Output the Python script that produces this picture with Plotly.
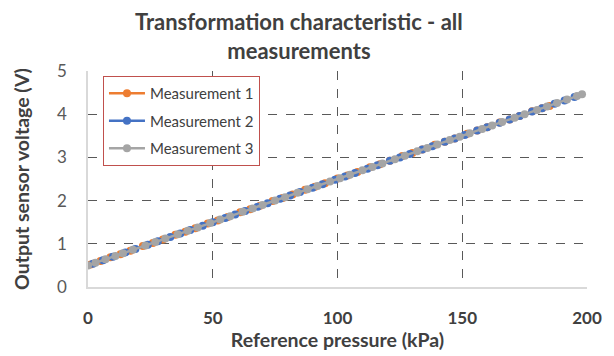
import plotly.graph_objects as go

# Measurement 1 (orange)
m1_p = [1, 5, 9, 13, 17, 22, 26, 30, 35, 39, 43, 48, 52, 56, 61, 65, 69, 74, 78, 82,
        87, 91, 95, 100, 104, 108, 113, 117, 121, 126, 130, 134, 139, 143, 147, 152,
        156, 160, 165, 169, 173, 178, 182, 185]
m1_v = [0.52, 0.60, 0.69, 0.76, 0.84, 0.95, 1.02, 1.10, 1.21, 1.28, 1.36, 1.47, 1.54,
        1.62, 1.73, 1.80, 1.88, 1.99, 2.06, 2.14, 2.25, 2.32, 2.40, 2.51, 2.58, 2.66,
        2.77, 2.84, 2.92, 3.03, 3.10, 3.18, 3.29, 3.36, 3.44, 3.55, 3.62, 3.70, 3.81,
        3.88, 3.96, 4.07, 4.14, 4.19]

# Measurement 2 (blue)
m2_p = [2, 6, 10, 15, 19, 24, 28, 33, 37, 41, 46, 50, 55, 59, 63, 68, 72, 77, 81, 85,
        90, 94, 99, 103, 107, 112, 116, 121, 125, 129, 134, 138, 143, 147, 151, 156,
        160, 165, 169, 173, 178, 182, 187, 191, 195]
m2_v = [0.54, 0.62, 0.70, 0.80, 0.88, 0.98, 1.06, 1.16, 1.24, 1.32, 1.42, 1.50, 1.60,
        1.68, 1.76, 1.86, 1.94, 2.04, 2.12, 2.20, 2.30, 2.38, 2.48, 2.56, 2.64, 2.74,
        2.82, 2.92, 3.00, 3.08, 3.18, 3.26, 3.36, 3.44, 3.52, 3.62, 3.70, 3.80, 3.88,
        3.96, 4.06, 4.14, 4.24, 4.32, 4.40]

# Measurement 3 (gray)
m3_p = [0, 3, 7, 11, 14, 18, 23, 27, 31, 36, 40, 44, 49, 53, 57, 62, 66, 70, 75, 79,
        84, 88, 92, 97, 101, 105, 110, 114, 118, 123, 127, 132, 136, 140, 145, 149,
        153, 158, 162, 166, 171, 175, 180, 184, 188, 192, 196, 198]
m3_v = [0.50, 0.56, 0.64, 0.72, 0.78, 0.86, 0.96, 1.04, 1.12, 1.22, 1.30, 1.38, 1.48,
        1.56, 1.64, 1.74, 1.82, 1.90, 2.00, 2.08, 2.18, 2.26, 2.34, 2.44, 2.52, 2.60,
        2.70, 2.78, 2.86, 2.96, 3.04, 3.14, 3.22, 3.30, 3.40, 3.48, 3.56, 3.66, 3.74,
        3.82, 3.92, 4.00, 4.10, 4.18, 4.26, 4.34, 4.42, 4.46]

series = [
    ("Measurement 1", m1_p, m1_v, "#ED7D31"),
    ("Measurement 2", m2_p, m2_v, "#4472C4"),
    ("Measurement 3", m3_p, m3_v, "#A5A5A5"),
]

x_ticks = [0, 50, 100, 150, 200]
y_ticks = [0, 1, 2, 3, 4, 5]

FONT = "Lato"
TXT = "#595959"
DARK = "#404040"

fig = go.Figure()
for i, (name, xs, ys, col) in enumerate(series):
    fig.add_trace(go.Scatter(
        x=xs, y=ys, name=name, mode="lines+markers",
        line=dict(color=col, width=2.5),
        marker=dict(color=col, size=8),
        legendgroup=f"g{i}",
    ))

fig.update_layout(
    width=614, height=356,
    margin=dict(l=88, r=20, t=71, b=68),
    paper_bgcolor="white", plot_bgcolor="white",
    font=dict(family=FONT, color=TXT),
    legend=dict(
        x=0.03, y=0.977, xanchor="left", yanchor="top",
        bgcolor="white", bordercolor="#C0504D", borderwidth=1,
        font=dict(size=15, color=DARK, family=FONT),
        tracegroupgap=5, itemwidth=36,
    ),
    showlegend=True,
)

fig.add_annotation(
    text="<b>Transformation characteristic - all<br>measurements</b>",
    xref="paper", yref="paper", x=(302 - 88) / 506, y=(288 - 6) / 217,
    xanchor="center", yanchor="top", showarrow=False, align="center",
    font=dict(size=22, color=DARK, family=FONT),
)

fig.update_xaxes(
    range=[0, 200], tickvals=x_ticks,
    ticktext=[f"<b>{v}</b>" for v in x_ticks],
    tickfont=dict(size=17, color=DARK),
    showgrid=True, gridcolor="#595959", griddash="dash", gridwidth=1,
    showline=True, linecolor="#D9D9D9", linewidth=1.5,
    zeroline=False, ticks="", ticklen=0, ticklabelstandoff=15,
    title=dict(text="<b>Reference pressure (kPa)</b>", font=dict(size=19.5, color=DARK), standoff=2),
)
fig.update_yaxes(
    range=[0, 5], tickvals=y_ticks,
    tickfont=dict(size=17, color=TXT),
    showgrid=True, gridcolor="#595959", griddash="dash", gridwidth=1,
    showline=True, linecolor="#D9D9D9", linewidth=1.5,
    zeroline=False, ticks="", ticklen=0, ticklabelstandoff=16,
    title=dict(text="<b>Output sensor voltage (V)</b>", font=dict(size=19.5, color=DARK), standoff=22),
)

fig.write_html("out.html")
